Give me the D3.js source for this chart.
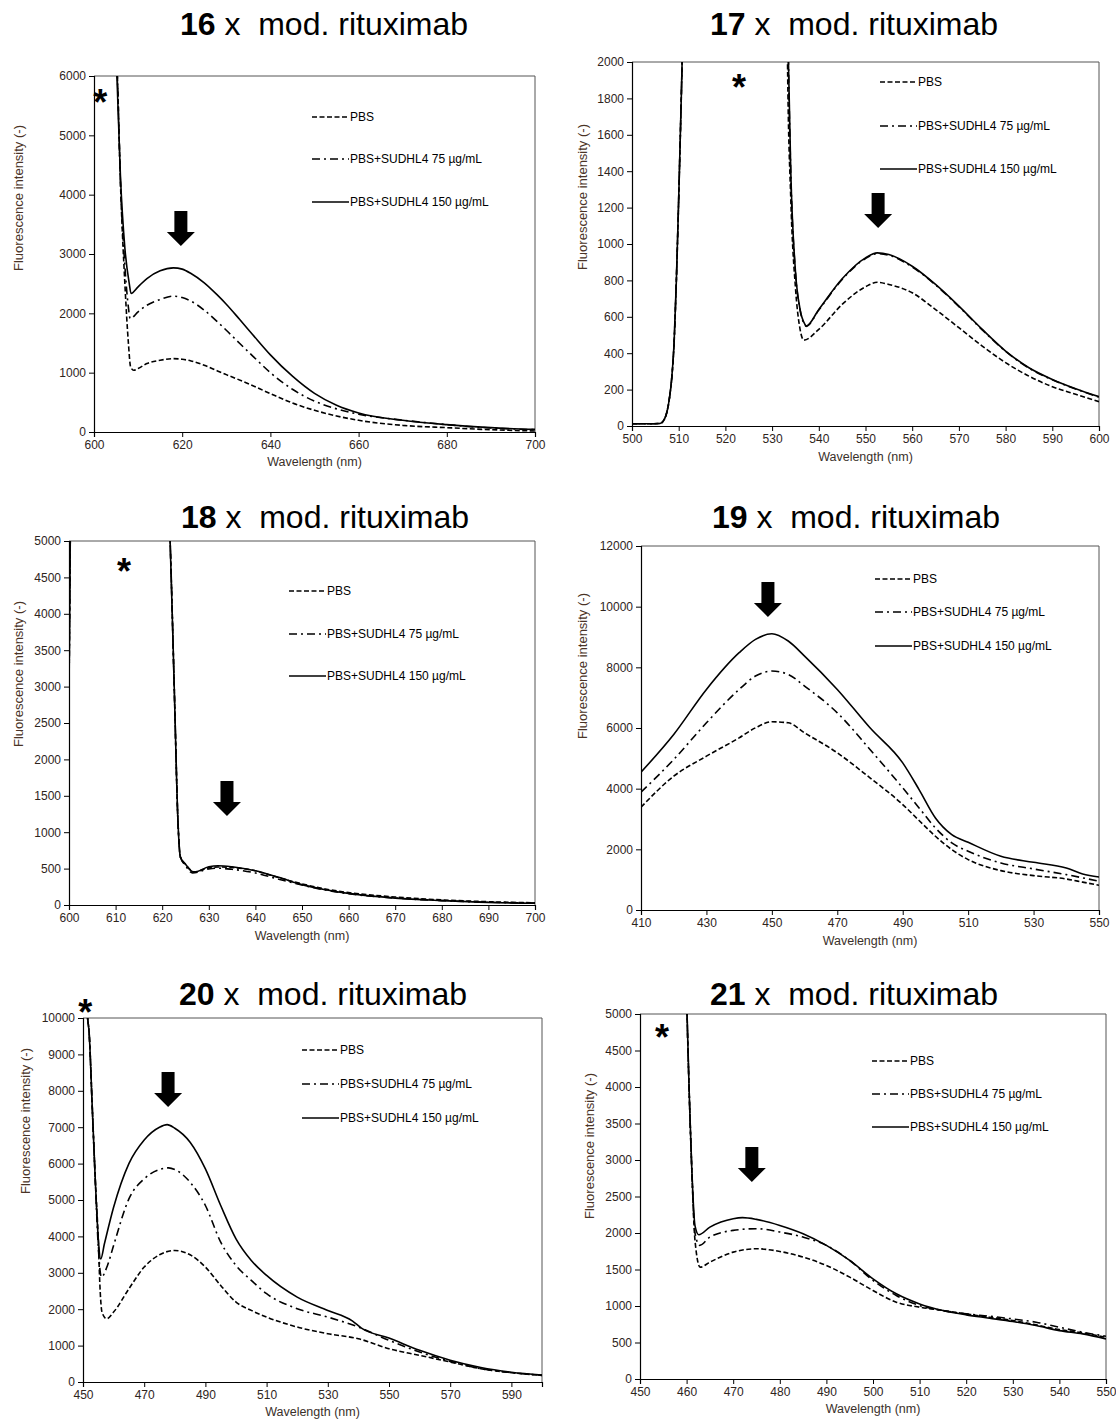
<!DOCTYPE html>
<html><head><meta charset="utf-8">
<script src="https://cdn.jsdelivr.net/npm/d3@7"></script>
<style>
body{margin:0;background:#fff}
svg text{font-family:"Liberation Sans",Arial,sans-serif}
</style>
</head><body>
<svg id="c" width="1116" height="1423"></svg>
<script>
// ---------- shared labels ----------
const seriesNames = ["PBS", "PBS+SUDHL4 75 µg/mL", "PBS+SUDHL4 150 µg/mL"];
const titleNums = ["16", "17", "18", "19", "20", "21"];
const titleRest = " x  mod. rituximab";
const xLabel = "Wavelength (nm)";
const yLabel = "Fluorescence intensity (-)";

// ---------- panel 16 ----------
const p16_xTicks = [600, 620, 640, 660, 680, 700];
const p16_yTicks = [0, 1000, 2000, 3000, 4000, 5000, 6000];
const p16_pbs_wl = [604.7, 605.3, 606, 607, 607.8, 608.3, 609, 610, 612, 615, 618, 620, 622, 625, 628, 630, 635, 640, 645, 650, 655, 660, 670, 680, 690, 700];
const p16_pbs_v  = [7000, 6000, 4200, 2500, 1500, 1097, 1040, 1069, 1153, 1209, 1237, 1226, 1198, 1125, 1029, 967, 815, 647, 489, 366, 270, 197, 112, 73, 39, 17];
const p16_s75_wl = [604.7, 605.3, 606, 607, 607.8, 608.2, 610, 612, 615, 618, 620, 622, 625, 628, 630, 633, 636, 640, 645, 650, 655, 660, 670, 680, 690, 700];
const p16_s75_v  = [7000, 6000, 4200, 2800, 2100, 1912, 2025, 2137, 2233, 2289, 2267, 2205, 2053, 1856, 1715, 1495, 1280, 1000, 720, 520, 390, 300, 200, 124, 67, 40];
const p16_s150_wl = [604.6, 605.2, 606, 607, 608, 608.4, 610, 612, 615, 618, 620, 622, 625, 628, 630, 633, 636, 640, 645, 650, 655, 660, 670, 680, 690, 700];
const p16_s150_v  = [7000, 6000, 4300, 3100, 2500, 2334, 2447, 2587, 2717, 2767, 2745, 2671, 2514, 2306, 2154, 1900, 1640, 1300, 940, 650, 450, 320, 197, 124, 73, 45];

// ---------- panel 17 ----------
const p17_xTicks = [500, 510, 520, 530, 540, 550, 560, 570, 580, 590, 600];
const p17_yTicks = [0, 200, 400, 600, 800, 1000, 1200, 1400, 1600, 1800, 2000];
const p17_pbs_wl = [500, 503, 506, 507, 508, 508.5, 509, 509.5, 510, 510.5, 511, 511.5, 522, 533, 533.3, 534, 535, 536, 536.8, 540, 545, 550, 552.5, 555, 560, 565, 570, 575, 580, 585, 590, 595, 600];
const p17_pbs_v  = [12, 12, 14, 40, 150, 260, 450, 800, 1250, 1750, 2300, 3000, 40000, 3000, 2000, 1250, 760, 530, 472, 531, 668, 765, 790, 778, 732, 640, 540, 439, 348, 274, 216, 174, 134];
const p17_s75_wl = [500, 503, 506, 507, 508, 508.5, 509, 509.5, 510, 510.5, 511, 511.5, 522, 533, 533.5, 534, 535, 536, 537, 537.3, 540, 545, 550, 552.5, 555, 560, 565, 570, 575, 580, 585, 590, 595, 600];
const p17_s75_v  = [12, 12, 14, 40, 150, 260, 450, 800, 1250, 1750, 2300, 3000, 40000, 3000, 2000, 1390, 845, 636, 556, 547, 637, 805, 920, 947, 938, 874, 775, 656, 528, 410, 318, 254, 203, 159];
const p17_s150_wl = [500, 503, 506, 507, 508, 508.5, 509, 509.5, 510, 510.5, 511, 511.5, 522, 533, 533.5, 534, 535, 536, 537, 537.3, 540, 545, 550, 552.5, 555, 560, 565, 570, 575, 580, 585, 590, 595, 600];
const p17_s150_v  = [12, 12, 14, 40, 150, 260, 450, 800, 1250, 1750, 2300, 3000, 40000, 3000, 2000, 1400, 850, 640, 560, 549, 640, 809, 924, 951, 942, 878, 778, 659, 531, 412, 320, 256, 205, 161];

// ---------- panel 18 ----------
const p18_xTicks = [600, 610, 620, 630, 640, 650, 660, 670, 680, 690, 700];
const p18_yTicks = [0, 500, 1000, 1500, 2000, 2500, 3000, 3500, 4000, 4500, 5000];
const p18_pbs_wl = [600, 600.4, 610, 621, 621.7, 622.6, 623.4, 623.9, 625, 626.8, 630, 632, 635, 640, 645, 650, 655, 660, 670, 680, 690, 700];
const p18_pbs_v  = [2900, 6000, 60000, 6000, 5000, 2950, 1120, 660, 560, 455, 510, 522, 515, 470, 375, 290, 220, 170, 110, 70, 45, 30];
const p18_s75_wl = [600, 600.4, 610, 621, 621.7, 622.6, 623.4, 623.9, 625, 626.5, 630, 632, 635, 640, 645, 650, 655, 660, 670, 680, 690, 700];
const p18_s75_v  = [2900, 6000, 60000, 6000, 5000, 2950, 1120, 660, 540, 440, 495, 505, 490, 440, 355, 275, 205, 155, 95, 60, 38, 28];
const p18_s150_wl = [600, 600.4, 610, 621, 621.7, 622.6, 623.4, 623.9, 625, 626.8, 630, 632, 635, 640, 645, 650, 655, 660, 670, 680, 690, 700];
const p18_s150_v  = [2900, 6000, 60000, 6000, 5000, 2950, 1120, 660, 560, 450, 525, 540, 525, 470, 380, 280, 210, 160, 95, 60, 35, 25];

// ---------- panel 19 ----------
const p19_xTicks = [410, 430, 450, 470, 490, 510, 530, 550];
const p19_yTicks = [0, 2000, 4000, 6000, 8000, 10000, 12000];
const p19_wl = [410, 420, 430, 440, 445, 450, 455, 460, 470, 480, 490, 495, 500, 505, 510, 520, 530, 540, 545, 550];
const p19_pbs_v  = [3388, 4411, 5071, 5676, 6006, 6204, 6171, 5841, 5181, 4356, 3476, 2950, 2431, 1991, 1661, 1298, 1133, 1023, 920, 814];
const p19_s75_v  = [3883, 4961, 6171, 7272, 7712, 7877, 7767, 7382, 6501, 5291, 4026, 3366, 2706, 2211, 1936, 1551, 1353, 1166, 1060, 946];
const p19_s150_v = [4543, 5787, 7272, 8482, 8922, 9109, 8867, 8372, 7272, 6006, 4851, 3971, 3036, 2486, 2233, 1771, 1573, 1386, 1188, 1089];

// ---------- panel 20 ----------
const p20_xTicks = [450, 470, 490, 510, 530, 550, 570, 590];
const p20_yTicks = [0, 1000, 2000, 3000, 4000, 5000, 6000, 7000, 8000, 9000, 10000];
const p20_pbs_wl = [449, 451.5, 452, 453, 454, 455, 455.5, 456.2, 457.7, 460, 465, 470, 475, 480, 485, 490, 495, 500, 505, 510, 520, 530, 540, 550, 560, 570, 580, 590, 600];
const p20_pbs_v  = [14000, 10000, 9600, 7600, 5580, 3900, 2700, 1921, 1738, 1921, 2562, 3157, 3495, 3614, 3495, 3157, 2653, 2196, 1967, 1784, 1510, 1327, 1189, 915, 732, 549, 366, 256, 183];
const p20_s75_wl = [449, 451.5, 452, 453, 454, 455, 456, 458, 460, 465, 470, 475, 478, 480, 485, 490, 495, 500, 505, 510, 520, 530, 540, 550, 560, 570, 580, 590, 600];
const p20_s75_v  = [14000, 10000, 9600, 7600, 5580, 3700, 2882, 3202, 3751, 5032, 5581, 5837, 5883, 5837, 5489, 4849, 3843, 3202, 2791, 2425, 2013, 1784, 1510, 1144, 823, 567, 366, 256, 183];
const p20_s150_wl = [449, 451.5, 452, 453, 454, 455, 455.8, 457, 460, 465, 470, 475, 477.5, 480, 485, 490, 495, 500, 505, 510, 520, 530, 538, 541, 550, 560, 570, 580, 590, 600];
const p20_s150_v  = [14000, 10000, 9600, 7600, 5580, 3930, 3380, 3797, 4800, 6000, 6650, 7000, 7070, 6972, 6587, 5855, 4849, 3934, 3339, 2928, 2333, 1967, 1680, 1480, 1208, 870, 600, 400, 270, 190];

// ---------- panel 21 ----------
const p21_xTicks = [450, 460, 470, 480, 490, 500, 510, 520, 530, 540, 550];
const p21_yTicks = [0, 500, 1000, 1500, 2000, 2500, 3000, 3500, 4000, 4500, 5000];
const p21_pbs_wl = [459.5, 460.1, 460.6, 461.1, 461.8, 462.9, 465, 470, 475, 480, 485, 490, 495, 500, 505, 510, 515, 520, 525, 530, 535, 540, 545, 550];
const p21_pbs_v  = [7000, 5000, 3843, 2900, 1900, 1532, 1601, 1738, 1784, 1747, 1670, 1555, 1395, 1212, 1052, 984, 938, 892, 846, 801, 741, 677, 631, 572];
const p21_s75_wl = [459.5, 460.1, 460.6, 461.1, 461.8, 462.8, 465, 470, 475, 480, 485, 490, 495, 500, 505, 510, 515, 520, 525, 530, 535, 540, 545, 550];
const p21_s75_v  = [7000, 5000, 3843, 2900, 2000, 1830, 1944, 2036, 2059, 2013, 1944, 1830, 1624, 1350, 1144, 1006, 938, 892, 860, 823, 778, 709, 640, 586];
const p21_s150_wl = [459.5, 460.1, 460.6, 461.1, 461.8, 462.6, 465, 470, 472, 475, 480, 485, 490, 495, 500, 505, 510, 515, 520, 525, 530, 535, 540, 545, 550];
const p21_s150_v  = [7000, 5000, 3843, 2900, 2100, 1976, 2081, 2196, 2210, 2187, 2104, 1990, 1830, 1624, 1372, 1167, 1029, 938, 878, 833, 787, 732, 663, 618, 549];

// annotation anchors (data units): arrow tip, asterisk centre
const arrowAt = [[619.7, 3135], [552.7, 1088], [633.9, 1223], [448.8, 9659], [477.8, 7555], [474, 2699]];
const starAt  = [[601.4, 5680], [522.9, 1901], [611.8, 4684], null, [450.7, 10357], [454.7, 4781]];

// ---------- layout ----------
const panels = [
  {box:[94, 76, 535, 432], xd:[600,700], yd:[0,6000], xt:p16_xTicks, yt:p16_yTicks,
   s:[[p16_pbs_wl,p16_pbs_v],[p16_s75_wl,p16_s75_v],[p16_s150_wl,p16_s150_v]],
   title:[324, 35], leg:[218, [41, 83, 126]], ylx:18, ylc:198, xly:466},
  {box:[632, 62, 1099, 426], xd:[500,600], yd:[0,2000], xt:p17_xTicks, yt:p17_yTicks,
   s:[[p17_pbs_wl,p17_pbs_v],[p17_s75_wl,p17_s75_v],[p17_s150_wl,p17_s150_v]],
   title:[854, 35], leg:[248, [20, 64, 107]], ylx:582, ylc:197, xly:461},
  {box:[69, 541, 535, 905], xd:[600,700], yd:[0,5000], xt:p18_xTicks, yt:p18_yTicks,
   s:[[p18_pbs_wl,p18_pbs_v],[p18_s75_wl,p18_s75_v],[p18_s150_wl,p18_s150_v]],
   title:[325, 528], leg:[220, [50, 93, 135]], ylx:18, ylc:674, xly:940},
  {box:[641, 546, 1099, 910], xd:[410,550], yd:[0,12000], xt:p19_xTicks, yt:p19_yTicks,
   s:[[p19_wl,p19_pbs_v],[p19_wl,p19_s75_v],[p19_wl,p19_s150_v]],
   title:[856, 528], leg:[234, [33, 66, 100]], ylx:582, ylc:666, xly:945},
  {box:[83, 1018, 542, 1382], xd:[450,600], yd:[0,10000], xt:p20_xTicks, yt:p20_yTicks,
   s:[[p20_pbs_wl,p20_pbs_v],[p20_s75_wl,p20_s75_v],[p20_s150_wl,p20_s150_v]],
   title:[323, 1005], leg:[219, [32, 66, 100]], ylx:25, ylc:1121, xly:1416},
  {box:[640, 1014, 1106, 1379], xd:[450,550], yd:[0,5000], xt:p21_xTicks, yt:p21_yTicks,
   s:[[p21_pbs_wl,p21_pbs_v],[p21_s75_wl,p21_s75_v],[p21_s150_wl,p21_s150_v]],
   title:[854, 1005], leg:[232, [47, 80, 113]], ylx:589, ylc:1146, xly:1413}
];
const dashes = ["5,2.5", "8,4,2,4", null];

const svg = d3.select("#c");

panels.forEach((p, i) => {
  const [L, T, R, B] = p.box;
  const x = d3.scaleLinear().domain(p.xd).range([L, R]);
  const y = d3.scaleLinear().domain(p.yd).range([B, T]);
  const g = svg.append("g");

  // title
  const tt = g.append("text").attr("x", p.title[0]).attr("y", p.title[1])
    .attr("text-anchor", "middle").attr("font-size", 32).attr("fill", "#000")
    .style("white-space", "pre");
  tt.append("tspan").attr("font-weight", "bold").text(titleNums[i]);
  tt.append("tspan").text(titleRest);

  // clip
  const cid = "clip" + i;
  g.append("clipPath").attr("id", cid).append("rect")
    .attr("x", L).attr("y", T).attr("width", R - L).attr("height", B - T);

  // frame (top/right)
  g.append("path").attr("d", `M${L},${T}H${R}V${B}`).attr("fill", "none")
    .attr("stroke", "#555").attr("stroke-width", 1);

  // axes
  const ax = g.append("g").attr("transform", `translate(0,${B})`)
    .call(d3.axisBottom(x).tickValues(p.xt).tickSize(5).tickPadding(3).tickFormat(d3.format("d")));
  const ay = g.append("g").attr("transform", `translate(${L},0)`)
    .call(d3.axisLeft(y).tickValues(p.yt).tickSize(5).tickPadding(3).tickFormat(d3.format("d")));
  [ax, ay].forEach(a => {
    a.select(".domain").attr("stroke", "#000").attr("stroke-width", 1.2);
    a.selectAll(".tick line").attr("stroke", "#000");
    a.selectAll("text").attr("font-size", 12).attr("fill", "#2e241c")
      .attr("font-family", "'Liberation Sans',Arial,sans-serif");
  });

  // axis titles
  g.append("text").attr("x", (L + R) / 2).attr("y", p.xly).attr("text-anchor", "middle")
    .attr("font-size", 12.5).attr("fill", "#3a302a").text(xLabel);
  g.append("text").attr("transform", `translate(${p.ylx},${p.ylc}) rotate(-90)`)
    .attr("text-anchor", "middle").attr("dy", "0.35em")
    .attr("font-size", 13).attr("fill", "#4a3326").text(yLabel);

  // series
  const line = d3.line().x(d => x(d[0])).y(d => y(d[1])).curve(d3.curveMonotoneX);
  const lines = g.append("g").attr("clip-path", `url(#${cid})`);
  p.s.forEach((s, k) => {
    const pts = s[0].map((w, j) => [w, s[1][j]]);
    lines.append("path").datum(pts).attr("d", line).attr("fill", "none")
      .attr("stroke", "#000").attr("stroke-width", 1.6)
      .attr("stroke-dasharray", dashes[k]);
  });

  // legend
  p.leg[1].forEach((dy, k) => {
    const lx = L + p.leg[0], ly = T + dy;
    g.append("line").attr("x1", lx).attr("x2", lx + 37).attr("y1", ly).attr("y2", ly)
      .attr("stroke", "#000").attr("stroke-width", 1.6).attr("stroke-dasharray", dashes[k]);
    g.append("text").attr("x", lx + 38).attr("y", ly).attr("dy", "0.35em")
      .attr("font-size", 12).attr("fill", "#000").text(seriesNames[k]);
  });

  // arrow
  const [aw, av] = arrowAt[i];
  const axp = x(aw), ayp = y(av);
  g.append("path").attr("fill", "#000")
    .attr("d", `M${axp - 6.5},${ayp - 35}h13v21h7.5L${axp},${ayp}L${axp - 14},${ayp - 14}h7.5z`);

  // asterisk
  if (starAt[i]) {
    g.append("text").attr("x", x(starAt[i][0])).attr("y", y(starAt[i][1]) + 20)
      .attr("text-anchor", "middle").attr("font-size", 36).attr("font-weight", "bold")
      .attr("fill", "#000").text("*");
  }
});
</script>
</body></html>
